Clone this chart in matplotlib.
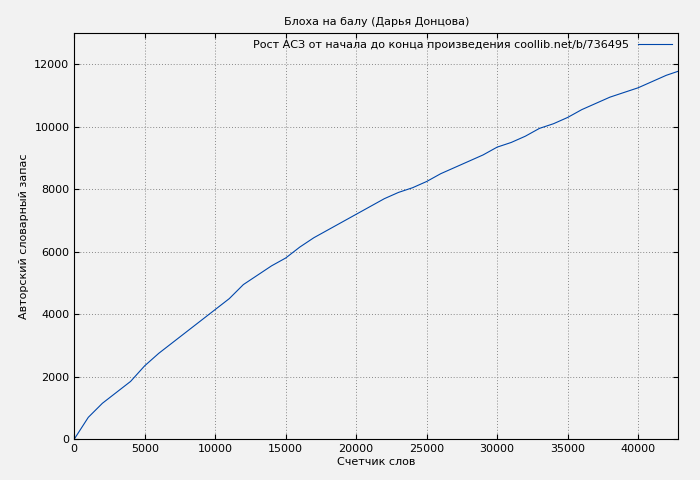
import matplotlib
matplotlib.use("Agg")
import matplotlib.pyplot as plt

words = [0, 1000, 2000, 3000, 4000, 5000, 6000, 7000, 8000, 9000, 10000,
         11000, 12000, 13000, 14000, 15000, 16000, 17000, 18000, 19000, 20000,
         21000, 22000, 23000, 24000, 25000, 26000, 27000, 28000, 29000, 30000,
         31000, 32000, 33000, 34000, 35000, 36000, 37000, 38000, 39000, 40000,
         41000, 42000, 42850]
vocab = [0, 700, 1150, 1500, 1850, 2350, 2750, 3100, 3450, 3800, 4150,
         4500, 4950, 5250, 5550, 5800, 6150, 6450, 6700, 6950, 7200,
         7450, 7700, 7900, 8050, 8250, 8500, 8700, 8900, 9100, 9350,
         9500, 9700, 9950, 10100, 10300, 10550, 10750, 10950, 11100, 11250,
         11450, 11650, 11780]

plt.rcParams['font.family'] = ['DejaVu Sans']
fig = plt.figure(figsize=(7, 4.8), dpi=100, facecolor='#f2f2f2')
ax = fig.add_axes([0.106, 0.085, 0.863, 0.846])
ax.set_facecolor('#f2f2f2')
ax.plot(words, vocab, color='#0047ab', lw=0.8,
        label='Рост АСЗ от начала до конца произведения coollib.net/b/736495')
ax.set_xlim(0, 42850)
ax.set_ylim(0, 13000)
ax.set_xticks(range(0, 42000, 5000))
ax.set_yticks(range(0, 13000, 2000))
ax.grid(True, color='#888888', linestyle=(0, (1, 2)), lw=0.7)
ax.tick_params(labelsize=8, direction='in', top=True, right=True)
ax.set_title('Блоха на балу (Дарья Донцова)', fontsize=8)
ax.set_xlabel('Счетчик слов', fontsize=8, labelpad=2)
ax.set_ylabel('Авторский словарный запас', fontsize=8)
leg = ax.legend(loc='upper right', fontsize=8, frameon=False,
                markerfirst=False, handlelength=3, borderaxespad=0.2)
fig.savefig('out.png', dpi=100, facecolor=fig.get_facecolor())
